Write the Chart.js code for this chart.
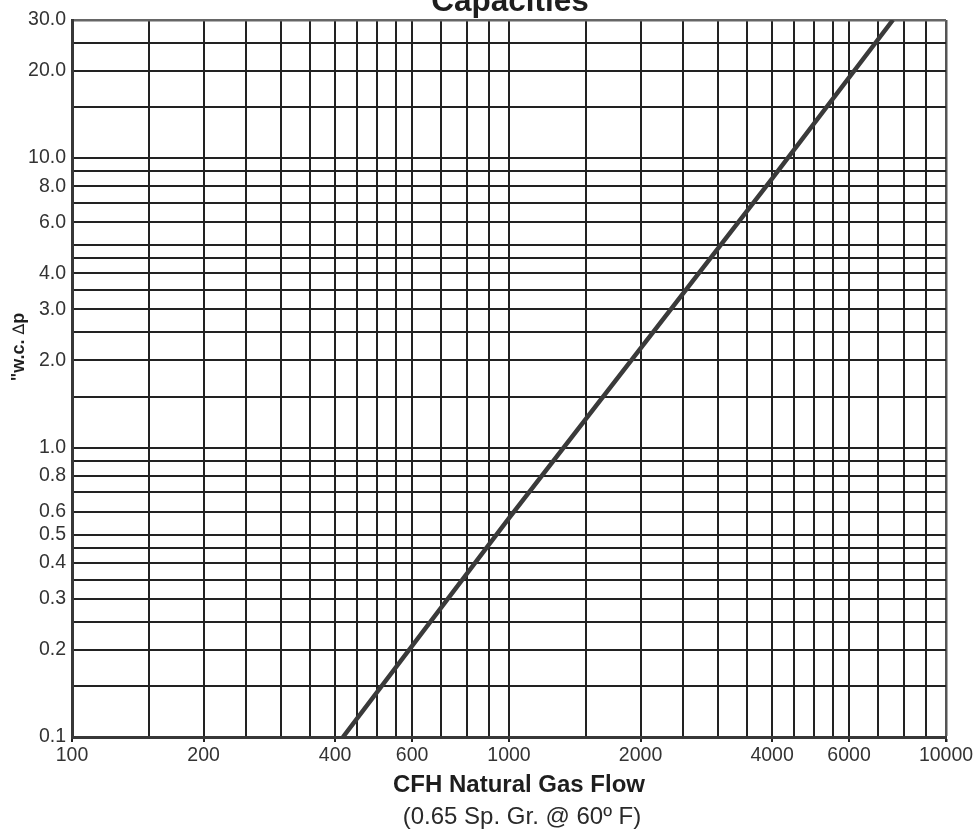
<!DOCTYPE html>
<html>
<head>
<meta charset="utf-8">
<script src="https://cdn.jsdelivr.net/npm/chart.js@4"></script>
<style>
  html, body { margin: 0; padding: 0; background: #fff; }
  #wrap { width: 980px; height: 829px; }
</style>
</head>
<body>
<div id="wrap"><canvas id="flow-chart" width="980" height="829"></canvas></div>
<script>
// grid lines of the log paper (CFH)
const xGrid = [100, 150, 200, 250, 300, 350, 400, 450, 500, 550, 600, 700, 800, 900,
  1000, 1500, 2000, 2500, 3000, 3500, 4000, 4500, 5000, 5500, 6000, 7000, 8000, 9000, 10000]
const xLabels = [100, 200, 400, 600, 1000, 2000, 4000, 6000, 10000]

// grid lines for pressure drop ("w.c.)
const yGrid = [0.1, 0.15, 0.2, 0.25, 0.3, 0.35, 0.4, 0.45, 0.5, 0.6, 0.7, 0.8, 0.9,
  1, 1.5, 2, 2.5, 3, 3.5, 4, 4.5, 5, 6, 7, 8, 9, 10, 15, 20, 25, 30]
const yLabels = [0.1, 0.2, 0.3, 0.4, 0.5, 0.6, 0.8, 1, 2, 3, 4, 6, 8, 10, 20, 30]

// capacity curve
const flow = [417, 1000, 4000, 7560]
const drop = [0.1, 0.57, 8.5, 30]

const ink = '#222'
const sans = '"Liberation Sans", Arial, sans-serif'

// titles drawn straight on the canvas
const textPlugin = {
  id: 'texts',
  afterDraw(chart) {
    const c = chart.ctx
    c.save()
    c.fillStyle = '#1e1e1e'
    c.textAlign = 'center'
    c.textBaseline = 'alphabetic'
    c.font = 'bold 31.5px ' + sans
    c.fillText('Capacities', 510, 11)

    c.font = 'bold 24px ' + sans
    c.fillText('CFH Natural Gas Flow', 519, 792)
    c.fillStyle = '#2a2a2a'
    c.font = '24px ' + sans
    c.fillText('(0.65 Sp. Gr. @ 60º F)', 522, 824)

    // y title, rotated
    c.fillStyle = '#1e1e1e'
    c.translate(24, 347)
    c.rotate(-Math.PI / 2)
    const a = '"w.c. ', d = '\u2206', p = 'p'
    c.font = 'bold 18px ' + sans
    const wa = c.measureText(a).width, wp = c.measureText(p).width
    c.font = '16px "DejaVu Sans", sans-serif'
    const wd = c.measureText(d).width
    let x0 = -(wa + wd + wp) / 2
    c.textAlign = 'left'
    c.font = 'bold 18px ' + sans
    c.fillText(a, x0, 0)
    c.font = '16px "DejaVu Sans", sans-serif'
    c.fillText(d, x0 + wa, 0)
    c.font = 'bold 18px ' + sans
    c.fillText(p, x0 + wa + wd, 0)
    c.restore()
  }
}

const chartCanvas = document.querySelector('#flow-chart')

const flowChart = new Chart(chartCanvas, {
  type: 'line',
  data: {
    datasets: [{
      data: flow.map((f, i) => ({ x: f, y: drop[i] })),
      borderColor: '#3a3a3a',
      borderWidth: 4.5,
      pointRadius: 0,
      fill: false,
      tension: 0
    }]
  },
  options: {
    responsive: false,
    animation: false,
    layout: { padding: { top: 20, right: 34, left: 0, bottom: 0 } },
    plugins: {
      legend: { display: false },
      tooltip: { enabled: false }
    },
    scales: {
      x: {
        type: 'logarithmic',
        min: 100,
        max: 10000,
        afterBuildTicks: scale => { scale.ticks = xGrid.map(v => ({ value: v })) },
        afterFit: scale => { scale.height = 92 },
        border: { color: '#383838', width: 3 },
        grid: {
          color: ctx => (ctx.tick && ctx.tick.value === 10000) ? '#555' : ink,
          lineWidth: ctx => (ctx.tick && ctx.tick.value === 10000) ? 2.5 : 2,
          tickLength: 5,
          tickColor: ctx => (ctx.tick && xLabels.includes(ctx.tick.value)) ? ink : 'rgba(0,0,0,0)'
        },
        ticks: {
          autoSkip: false,
          maxRotation: 0,
          padding: 2,
          color: '#333',
          font: { family: sans, size: 19.5 },
          callback: value => xLabels.includes(value) ? String(value) : ''
        }
      },
      y: {
        type: 'logarithmic',
        min: 0.1,
        max: 30,
        afterBuildTicks: scale => { scale.ticks = yGrid.map(v => ({ value: v })) },
        afterFit: scale => { scale.width = 72 },
        border: { color: '#383838', width: 3 },
        grid: {
          color: ctx => (ctx.tick && ctx.tick.value === 30) ? '#666' : ink,
          lineWidth: ctx => (ctx.tick && ctx.tick.value === 30) ? 2.5 : 2,
          drawTicks: false
        },
        ticks: {
          autoSkip: false,
          padding: 6,
          color: '#333',
          font: { family: sans, size: 19.5 },
          callback: value => yLabels.includes(value) ? value.toFixed(1) : ''
        }
      }
    }
  },
  plugins: [textPlugin]
})
</script>
</body>
</html>
